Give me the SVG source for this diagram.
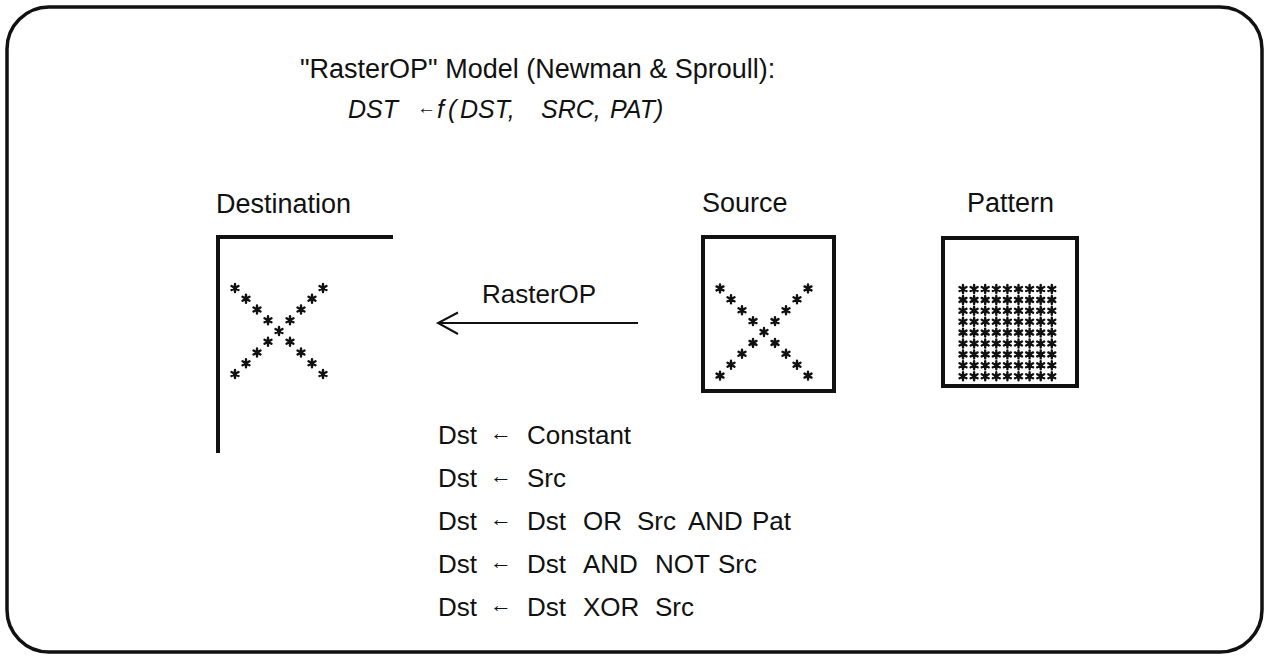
<svg xmlns="http://www.w3.org/2000/svg" xmlns:xlink="http://www.w3.org/1999/xlink" width="1267" height="656" viewBox="0 0 1267 656">
<style>
  text { font-family: "Liberation Sans", Arial, sans-serif; fill: #111; }
  .title { font-size: 27px; }
  .formula { font-size: 25px; font-style: italic; }
  .label { font-size: 27px; }
  .op { font-size: 26px; }
  .arr { font-size: 22px; }
  .farr { font-size: 19px; }
  .frame { fill: none; stroke: #111; stroke-width: 4; }
  .star path { stroke: #111; stroke-width: 2.4; stroke-linecap: round; }
  .conn { fill: none; stroke: #111; stroke-width: 2; }
</style>
<defs>
  <g id="star" class="star">
    <path d="M0,-4 V4 M-3.5,-2 L3.5,2 M-3.5,2 L3.5,-2"/>
    <circle r="2.2" fill="#111"/>
  </g>
</defs>
<rect x="0" y="0" width="1267" height="656" fill="#fff"/>
<rect id="border" x="7" y="7" width="1255" height="645" rx="42" ry="42" fill="none" stroke="#111" stroke-width="3.5"/>

<g id="title">
  <text class="title" x="300" y="78">"RasterOP" Model (Newman &amp; Sproull):</text>
</g>
<g id="formula">
  <text class="formula" y="118"><tspan x="348">DST</tspan><tspan x="437">f</tspan><tspan x="448">(</tspan><tspan x="460">DST,</tspan><tspan x="541">SRC,</tspan><tspan x="610">PAT)</tspan></text>
  <text class="farr" x="417" y="114">←</text>
</g>

<g id="destination">
  <text class="label" x="216" y="213">Destination</text>
  <path class="frame" d="M218,453 V237 H393"/>
  <g transform="translate(279,331)">
    <use xlink:href="#star" x="-44" y="-43"/><use xlink:href="#star" x="-33" y="-32.25"/><use xlink:href="#star" x="-22" y="-21.5"/><use xlink:href="#star" x="-11" y="-10.75"/>
    <use xlink:href="#star" x="0" y="0"/>
    <use xlink:href="#star" x="11" y="10.75"/><use xlink:href="#star" x="22" y="21.5"/><use xlink:href="#star" x="33" y="32.25"/><use xlink:href="#star" x="44" y="43"/>
    <use xlink:href="#star" x="44" y="-43"/><use xlink:href="#star" x="33" y="-32.25"/><use xlink:href="#star" x="22" y="-21.5"/><use xlink:href="#star" x="11" y="-10.75"/>
    <use xlink:href="#star" x="-11" y="10.75"/><use xlink:href="#star" x="-22" y="21.5"/><use xlink:href="#star" x="-33" y="32.25"/><use xlink:href="#star" x="-44" y="43"/>
  </g>
</g>

<g id="source">
  <text class="label" x="702" y="212">Source</text>
  <rect class="frame" x="703" y="237" width="131" height="154"/>
  <g transform="translate(764,332)">
    <use xlink:href="#star" x="-44" y="-43.6"/><use xlink:href="#star" x="-33" y="-32.7"/><use xlink:href="#star" x="-22" y="-21.8"/><use xlink:href="#star" x="-11" y="-10.9"/>
    <use xlink:href="#star" x="0" y="0"/>
    <use xlink:href="#star" x="11" y="10.9"/><use xlink:href="#star" x="22" y="21.8"/><use xlink:href="#star" x="33" y="32.7"/><use xlink:href="#star" x="44" y="43.6"/>
    <use xlink:href="#star" x="44" y="-43.6"/><use xlink:href="#star" x="33" y="-32.7"/><use xlink:href="#star" x="22" y="-21.8"/><use xlink:href="#star" x="11" y="-10.9"/>
    <use xlink:href="#star" x="-11" y="10.9"/><use xlink:href="#star" x="-22" y="21.8"/><use xlink:href="#star" x="-33" y="32.7"/><use xlink:href="#star" x="-44" y="43.6"/>
  </g>
</g>

<g id="pattern">
  <text class="label" x="967" y="212">Pattern</text>
  <rect class="frame" x="943" y="238" width="134" height="148"/>
  <defs>
    <g id="prow">
      <use xlink:href="#star" x="0"/><use xlink:href="#star" x="11.1"/><use xlink:href="#star" x="22.2"/><use xlink:href="#star" x="33.3"/><use xlink:href="#star" x="44.4"/><use xlink:href="#star" x="55.5"/><use xlink:href="#star" x="66.6"/><use xlink:href="#star" x="77.7"/><use xlink:href="#star" x="88.8"/>
    </g>
  </defs>
  <g transform="translate(963,289)">
    <use xlink:href="#prow" y="0"/><use xlink:href="#prow" y="10.9"/><use xlink:href="#prow" y="21.8"/><use xlink:href="#prow" y="32.7"/><use xlink:href="#prow" y="43.6"/><use xlink:href="#prow" y="54.5"/><use xlink:href="#prow" y="65.4"/><use xlink:href="#prow" y="76.3"/><use xlink:href="#prow" y="87.2"/>
  </g>
</g>

<g id="connectors">
  <path class="conn" d="M638,323 H438"/>
  <path class="conn" d="M458,312.5 L438,323 L458,334"/>
  <text class="op" x="482" y="303">RasterOP</text>
</g>

<g id="operations">
  <text class="op" y="444"><tspan x="438">Dst</tspan><tspan x="527">Constant</tspan></text>
  <text class="arr" x="490" y="440">←</text>
  <text class="op" y="487"><tspan x="438">Dst</tspan><tspan x="527">Src</tspan></text>
  <text class="arr" x="490" y="483">←</text>
  <text class="op" y="530"><tspan x="438">Dst</tspan><tspan x="527">Dst</tspan><tspan x="583">OR</tspan><tspan x="637">Src</tspan><tspan x="688">AND</tspan><tspan x="752">Pat</tspan></text>
  <text class="arr" x="490" y="526">←</text>
  <text class="op" y="573"><tspan x="438">Dst</tspan><tspan x="527">Dst</tspan><tspan x="583">AND</tspan><tspan x="655">NOT</tspan><tspan x="718">Src</tspan></text>
  <text class="arr" x="490" y="569">←</text>
  <text class="op" y="616"><tspan x="438">Dst</tspan><tspan x="527">Dst</tspan><tspan x="583">XOR</tspan><tspan x="655">Src</tspan></text>
  <text class="arr" x="490" y="612">←</text>
</g>
</svg>
